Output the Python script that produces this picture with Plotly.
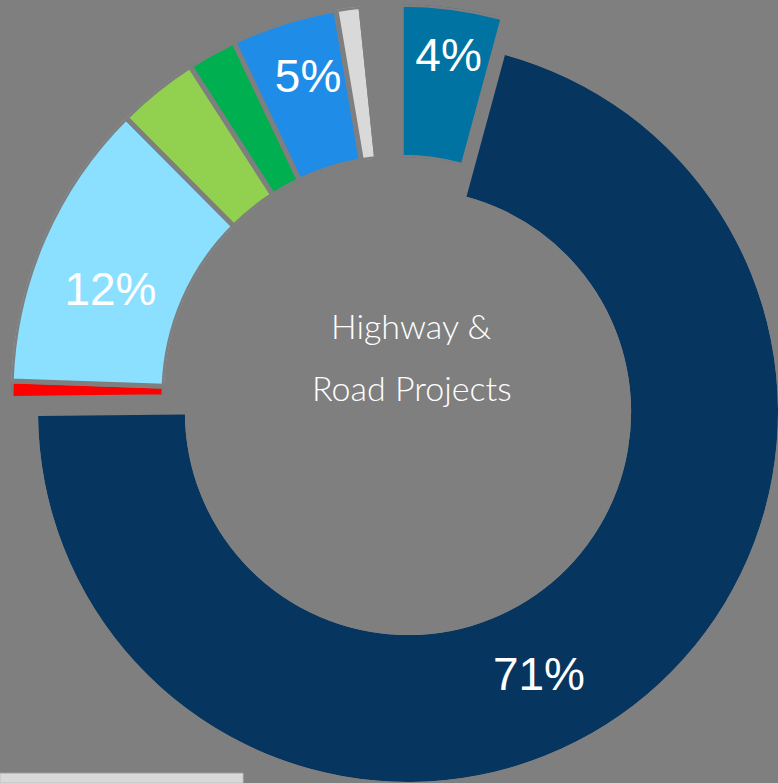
import plotly.graph_objects as go

# ---------------- data (clockwise from 12 o'clock) ----------------
segments = ["Segment A", "Segment B", "Segment C", "Segment D", "Segment E",
            "Segment F", "Segment G", "Segment H", "Unallocated"]
shares = [4.22, 70.6, 0.72, 12.0, 3.36, 2.04, 4.38, 1.03, 1.64]
share_labels = ["4%", "71%", "", "12%", "", "", "5%", "", ""]
colors = ["#0073A3", "#063660", "#FF0000", "#8BDFFF", "#92D050",
          "#00B050", "#1F8CE8", "#D9D9D9", "#7F7F7F"]
exploded = ["Segment B"]          # slice drawn pulled out on its own ring
center_lines = ["Highway &", "Road Projects"]

BG = "#7F7F7F"

# cumulative angles (degrees, clockwise from top)
total = sum(shares)
widths = [v / total * 360 for v in shares]
starts = []
acc = 0.0
for w in widths:
    starts.append(acc)
    acc += w
mids = [s + w / 2 for s, w in zip(starts, widths)]

# label placement tweaks: (angular offset in degrees, radial position within ring)
label_place = {"4%": (0.5, 0.66), "71%": (11.5, 0.5), "12%": (-4.5, 0.46), "5%": (1.0, 0.59)}


def lab_r(i):
    return label_place.get(share_labels[i], (0, 0.55))[1]


def lab_t(i):
    return mids[i] + label_place.get(share_labels[i], (0, 0.55))[0]


fig = go.Figure()

main_idx = [i for i, s in enumerate(segments) if s not in exploded]
expl_idx = [i for i, s in enumerate(segments) if s in exploded]

fig.add_trace(go.Barpolar(
    subplot="polar",
    r=[1] * len(main_idx),
    theta=[mids[i] for i in main_idx],
    width=[widths[i] for i in main_idx],
    marker=dict(color=[colors[i] for i in main_idx], line=dict(color=BG, width=5)),
    hoverinfo="skip",
    showlegend=False,
))
fig.add_trace(go.Barpolar(
    subplot="polar2",
    r=[1] * len(expl_idx),
    theta=[mids[i] for i in expl_idx],
    width=[widths[i] for i in expl_idx],
    marker=dict(color=[colors[i] for i in expl_idx], line=dict(width=0)),
    hoverinfo="skip",
    showlegend=False,
))

lab_font = dict(family="Liberation Sans, Arial, sans-serif", size=46, color="white")
for sub, idx in (("polar", main_idx), ("polar2", expl_idx)):
    sel = [i for i in idx if share_labels[i]]
    fig.add_trace(go.Scatterpolar(
        subplot=sub,
        mode="text",
        r=[lab_r(i) for i in sel],
        theta=[lab_t(i) for i in sel],
        text=[share_labels[i] for i in sel],
        textposition="middle center",
        textfont=lab_font,
        hoverinfo="skip",
        showlegend=False,
    ))

hidden_radial = dict(visible=False, range=[0, 1], showgrid=False, showline=False, showticklabels=False)
hidden_ang = dict(visible=False, rotation=90, direction="clockwise", showgrid=False,
                  showline=False, showticklabels=False)

center_font = dict(family="Lato, sans-serif", size=34, color="white", weight=300)

fig.update_layout(
    width=778, height=783,
    margin=dict(l=0, r=0, t=0, b=0),
    paper_bgcolor=BG, plot_bgcolor=BG,
    showlegend=False,
    polar=dict(
        domain=dict(x=[0.01414, 0.6536], y=[0.48774, 0.99451]),
        sector=[74, 181], hole=0.6077, bgcolor="rgba(0,0,0,0)",
        radialaxis=hidden_radial, angularaxis=hidden_ang,
    ),
    polar2=dict(
        domain=dict(x=[0.048843, 1.0], y=[0.001277, 0.93027]),
        sector=[-180, 75], hole=0.603, bgcolor="rgba(0,0,0,0)",
        radialaxis=hidden_radial, angularaxis=hidden_ang,
    ),
    annotations=[
        dict(text=center_lines[0], x=0.528, y=0.5837, xref="paper", yref="paper",
             showarrow=False, xanchor="center", yanchor="middle", font=center_font),
        dict(text=center_lines[1], x=0.529, y=0.5045, xref="paper", yref="paper",
             showarrow=False, xanchor="center", yanchor="middle", font=center_font),
    ],
    shapes=[
        dict(type="rect", xref="paper", yref="paper", x0=0, x1=0.3123, y0=0, y1=0.0124,
             fillcolor="#D9D9D9", line=dict(color="#BFBFBF", width=1), layer="above"),
    ],
)

fig.write_html(
    "out.html",
    config={"displayModeBar": False},
    post_script=(
        "document.documentElement.style.margin='0';"
        "document.body.style.margin='0';"
        "document.body.style.overflow='hidden';"
        "document.documentElement.style.overflow='hidden';"
    ),
)
